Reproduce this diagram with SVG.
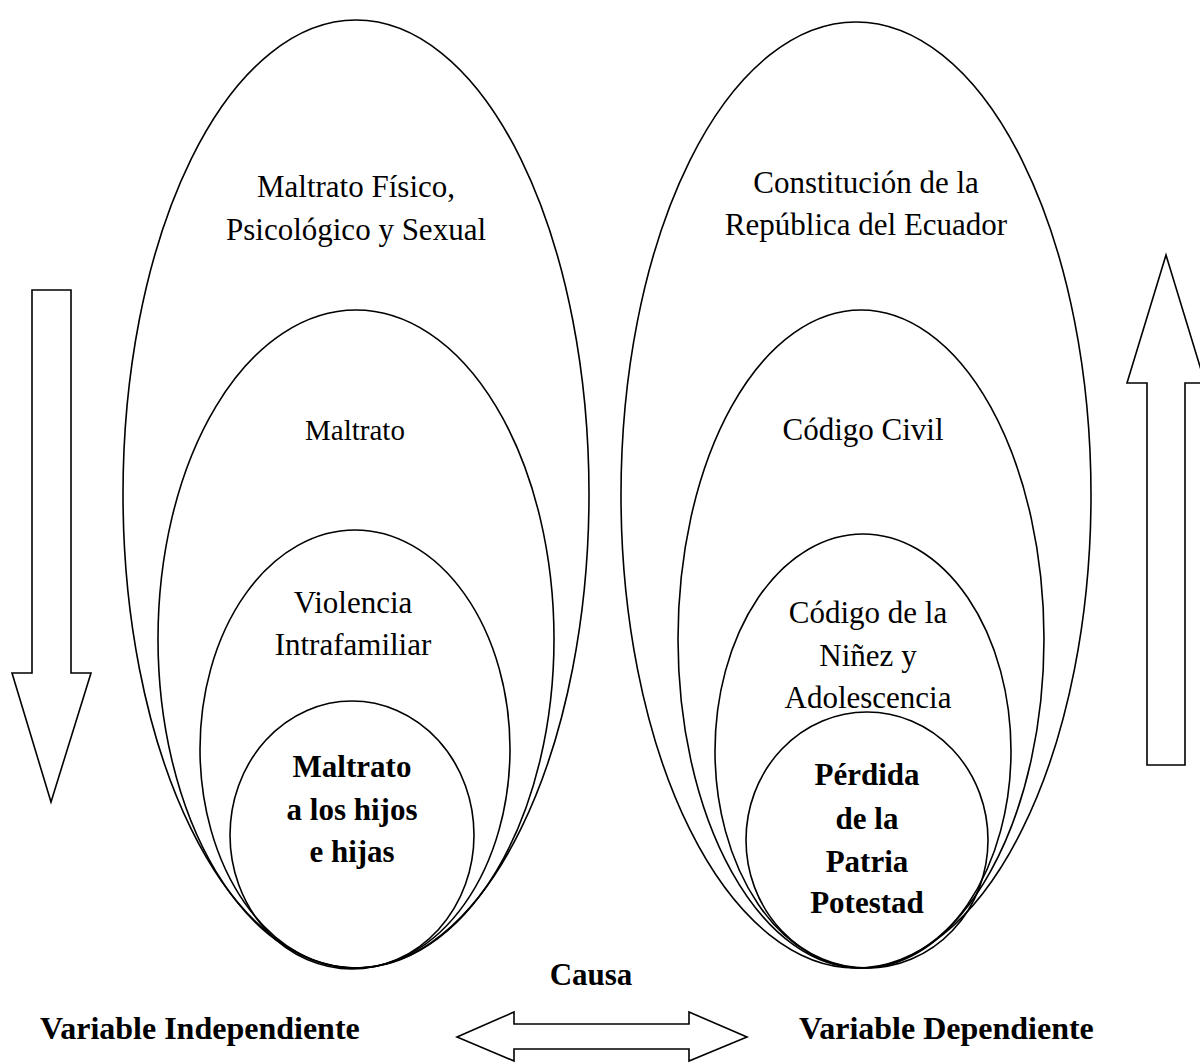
<svg xmlns="http://www.w3.org/2000/svg" width="1200" height="1063" viewBox="0 0 1200 1063">
<style>
.sh{fill:none;stroke:#000;stroke-width:1.6}
.ar{fill:#fff;stroke:#000;stroke-width:1.6;stroke-linejoin:miter}
text{font-family:"Liberation Serif","Times New Roman",serif;font-size:31px;fill:#000;text-anchor:middle}
.b{font-weight:bold}
.l{text-anchor:start;font-size:32px}
</style>
<rect width="1200" height="1063" fill="#fff"/>
<g id="left-outer"><ellipse class="sh" cx="356" cy="494" rx="233" ry="474"/>
<text x="356" y="197">Maltrato Físico,</text><text x="356" y="240">Psicológico y Sexual</text></g>
<g id="left-2"><ellipse class="sh" cx="356" cy="639" rx="198" ry="329"/>
<text x="355" y="440" style="font-size:29px">Maltrato</text></g>
<g id="left-3"><ellipse class="sh" cx="355" cy="749" rx="155" ry="219"/>
<text x="353" y="613">Violencia</text><text x="353" y="655">Intrafamiliar</text></g>
<g id="left-inner"><ellipse class="sh" cx="352" cy="835" rx="122" ry="134"/>
<text class="b" x="352" y="777">Maltrato</text><text class="b" x="352" y="820">a los hijos</text><text class="b" x="352" y="862">e hijas</text></g>
<g id="right-outer"><ellipse class="sh" cx="856" cy="495" rx="235" ry="473"/>
<text x="866" y="193">Constitución de la</text><text x="866" y="235">República del Ecuador</text></g>
<g id="right-2"><ellipse class="sh" cx="861" cy="639" rx="183" ry="329"/>
<text x="863" y="440">Código Civil</text></g>
<g id="right-3"><ellipse class="sh" cx="863" cy="751" rx="148" ry="217"/>
<text x="868" y="623">Código de la</text><text x="868" y="666">Niñez y</text><text x="868" y="708">Adolescencia</text></g>
<g id="right-inner"><ellipse class="sh" cx="867" cy="840" rx="121" ry="128"/>
<text class="b" x="867" y="785">Pérdida</text><text class="b" x="867" y="829">de la</text><text class="b" x="867" y="872">Patria</text><text class="b" x="867" y="913">Potestad</text></g>
<g id="connectors">
<polygon class="ar" points="32,290 71,290 71,673 91,673 51,802 12,673 32,673"/>
<polygon class="ar" points="1147,765 1147,383 1127,383 1166,255 1205,383 1185,383 1185,765"/>
<polygon class="ar" points="457,1037 514,1012 514,1024 689,1024 689,1012 747,1037 689,1061 689,1049 514,1049 514,1061"/>
</g>
<g id="labels">
<text class="b" x="591" y="985">Causa</text>
<text class="b l" x="40" y="1039">Variable Independiente</text>
<text class="b l" x="799" y="1039">Variable Dependiente</text>
</g>
</svg>
